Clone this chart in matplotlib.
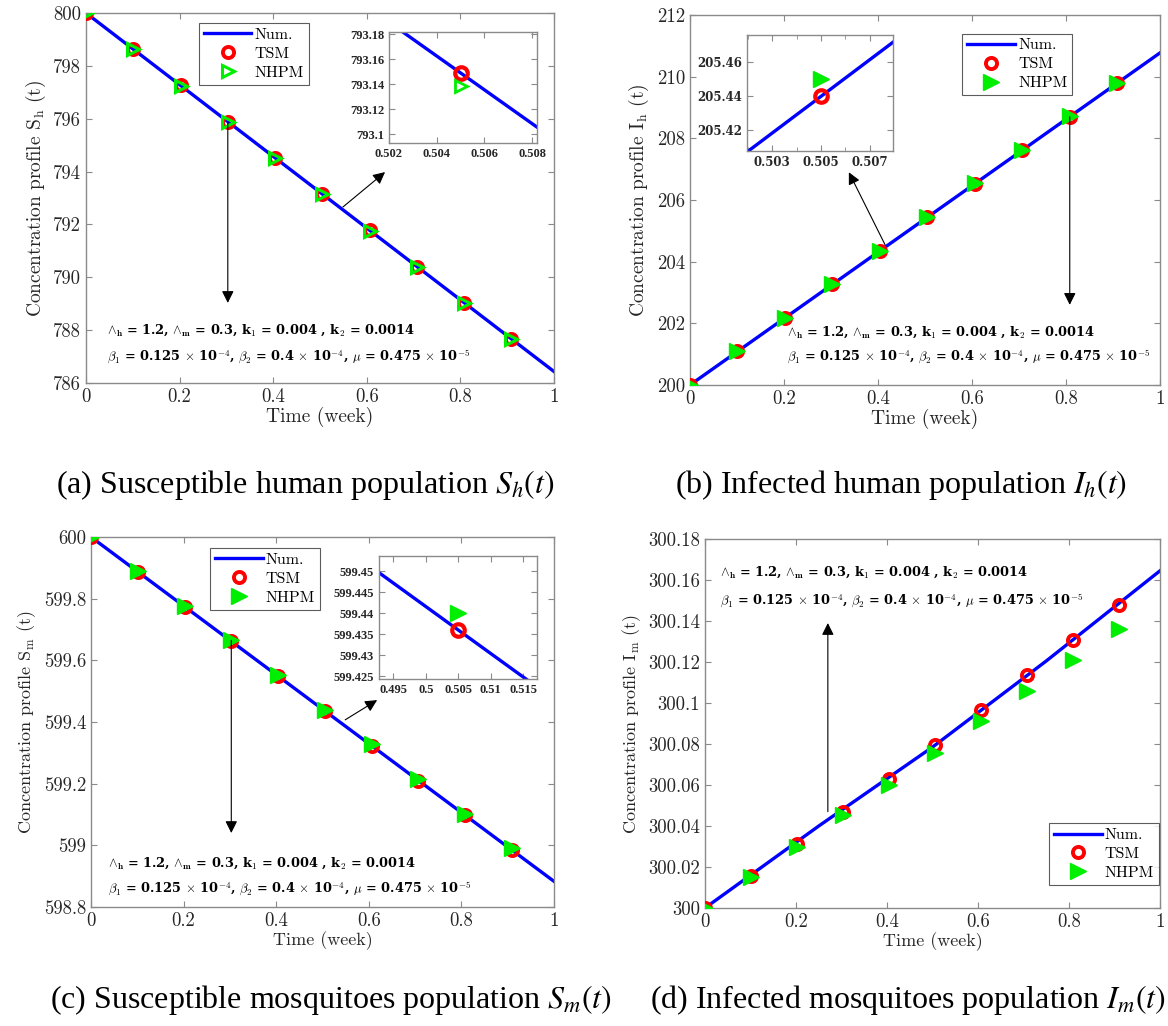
import matplotlib
matplotlib.use('Agg')
import matplotlib.pyplot as plt

plt.rcParams['mathtext.fontset'] = 'cm'
plt.rcParams['axes.formatter.use_mathtext'] = True

# time points of the TSM / NHPM markers and of the numerical curve
t_pts = [0, 0.101, 0.202, 0.303, 0.404, 0.505, 0.606, 0.707, 0.808, 0.909]
t_num = [0, 0.25, 0.5, 0.75, 1.0]

# (a) susceptible humans
Sh_num = [800, 796.608, 793.217, 789.825, 786.434]
Sh_tsm = [800, 798.630, 797.260, 795.889, 794.519, 793.149, 791.779, 790.408, 789.038, 787.668]
Sh_nhpm = [800, 798.626, 797.254, 795.882, 794.510, 793.139, 791.768, 790.396, 789.025, 787.654]

# (b) infected humans
Ih_num = [200, 202.693, 205.386, 208.079, 210.772]
Ih_tsm = [200, 201.088, 202.176, 203.264, 204.352, 205.440, 206.528, 207.616, 208.704, 209.792]
Ih_nhpm = [200, 201.090, 202.180, 203.270, 204.360, 205.450, 206.540, 207.630, 208.720, 209.810]

# (c) susceptible mosquitoes
Sm_num = [600, 599.7208, 599.4416, 599.1624, 598.8832]
Sm_tsm = [600, 599.887, 599.774, 599.662, 599.549, 599.436, 599.323, 599.210, 599.098, 598.985]
Sm_nhpm = [600, 599.889, 599.777, 599.666, 599.553, 599.440, 599.328, 599.215, 599.103, 598.991]

# (d) infected mosquitoes
Im_num = [300, 300.040, 300.0785, 300.1205, 300.1645]
Im_tsm = [300, 300.0155, 300.031, 300.047, 300.063, 300.0795, 300.0965, 300.1135, 300.1305, 300.148]
Im_nhpm = [300, 300.015, 300.030, 300.0455, 300.060, 300.0755, 300.091, 300.106, 300.121, 300.136]

x_ticks = [0, 0.2, 0.4, 0.6, 0.8, 1]
x_ticklabels = ['0', '0.2', '0.4', '0.6', '0.8', '1']

param_line1 = (r'$\wedge_\mathbf{h}$ = 1.2, $\wedge_\mathbf{m}$ = 0.3, k$_\mathbf{1}$ = 0.004 , '
               r'k$_\mathbf{2}$ = 0.0014')
param_line2 = (r'$\beta_\mathbf{1}$ = 0.125 $\times$ 10$^\mathbf{-4}$, $\beta_\mathbf{2}$ = 0.4 $\times$ '
               r'10$^\mathbf{-4}$, $\mu$ = 0.475 $\times$ 10$^\mathbf{-5}$')

GRAY = '#8a8a8a'
TXT = '#262626'
GREEN = '#00ee00'

fig = plt.figure(figsize=(11.68, 10.26), dpi=100)


def rect(L, T, R, B):
  return [L / 1168, 1 - B / 1026, (R - L) / 1168, (B - T) / 1026]


def style(ax, size=13.5, family='cmr10', weight='normal'):
  for s in ax.spines.values():
    s.set_color(GRAY)
    s.set_linewidth(1.0)
  ax.tick_params(direction='in', top=True, right=True, color=GRAY, labelcolor=TXT,
                 labelsize=size, length=4, width=0.8)
  for lab in ax.get_xticklabels() + ax.get_yticklabels():
    lab.set_family(family)
    lab.set_weight(weight)


def panel(r, tn, yn, ytsm, ynhpm, ylim, yticks, ylabel, open_tri=False, legend_loc=None, lab_size=14):
  ax = fig.add_axes(rect(*r))
  ax.plot(tn, yn, color='blue', lw=2.4, label='Num.', zorder=2)
  ax.plot(t_pts, ytsm, ls='none', marker='o', ms=8, mfc='none', mec='red', mew=2.8,
          label='TSM', zorder=3)
  if open_tri:
    ax.plot(t_pts, ynhpm, ls='none', marker='>', ms=9, mfc='none', mec=GREEN, mew=2.2,
            label='NHPM', zorder=4)
  else:
    ax.plot(t_pts, ynhpm, ls='none', marker='>', ms=11, mfc=GREEN, mec=GREEN, mew=1,
            label='NHPM', zorder=4)
  ax.set_xlim(0, 1)
  ax.set_ylim(*ylim)
  ax.set_xticks(x_ticks)
  ax.set_xticklabels(x_ticklabels)
  ax.set_yticks(yticks)
  ax.set_yticklabels([('%g' % v) for v in yticks])
  ax.set_xlabel('Time (week)', family='cmr10', fontsize=lab_size, color=TXT, labelpad=1)
  ax.set_ylabel(ylabel, family='cmr10', fontsize=lab_size, color=TXT, labelpad=4)
  style(ax)
  leg = ax.legend(loc='upper left', bbox_to_anchor=legend_loc, frameon=True, fancybox=False,
                  borderpad=0.3, labelspacing=0.3, handlelength=3.0,
                  handletextpad=0.2, borderaxespad=0, prop={'family': 'cmr10', 'size': 11.5})
  leg.get_frame().set_edgecolor('#333333')
  leg.get_frame().set_linewidth(0.8)
  return ax


def inset(r, tn, yn, ytsm, ynhpm, xlim, ylim, xticks, yticks, xfmt, yfmt, open_tri=False,
          minor=None, family='Liberation Serif', size=9):
  ax = fig.add_axes(rect(*r))
  ax.plot(tn, yn, color='blue', lw=2.4, zorder=2)
  ax.plot(t_pts, ytsm, ls='none', marker='o', ms=9, mfc='none', mec='red', mew=3, zorder=3)
  if open_tri:
    ax.plot(t_pts, ynhpm, ls='none', marker='>', ms=9, mfc='none', mec=GREEN, mew=2, zorder=4)
  else:
    ax.plot(t_pts, ynhpm, ls='none', marker='>', ms=11, mfc=GREEN, mec=GREEN, zorder=4)
  ax.set_xlim(*xlim)
  ax.set_ylim(*ylim)
  ax.set_xticks(xticks)
  ax.set_yticks(yticks)
  if minor is not None:
    ax.set_xticks(minor, minor=True)
    ax.tick_params(which='minor', direction='in', top=True, color=GRAY, length=3)
  style(ax, size=size, family=family, weight='bold')
  ax.set_xticklabels([xfmt % v for v in xticks], family=family, weight='bold', fontsize=size)
  ax.set_yticklabels([yfmt % v for v in yticks], family=family, weight='bold', fontsize=size)
  return ax


def params(ax, x, y1, y2, size=9.3):
  for y, s in ((y1, param_line1), (y2, param_line2)):
    ax.text(x, y, s, transform=ax.transAxes, fontsize=size, fontweight='bold',
            family='DejaVu Serif', va='center', ha='left', color='black', zorder=6)


def arrow(ax, start, end):
  ax.annotate('', xy=end, xytext=start,
              arrowprops=dict(arrowstyle='-|>', color='black', lw=0.8, mutation_scale=18,
                              shrinkA=0, shrinkB=0), zorder=6)


# ---- (a)
axa = panel((86, 13, 554, 383), t_num, Sh_num, Sh_tsm, Sh_nhpm, (786, 800),
            [786, 788, 790, 792, 794, 796, 798, 800],
            r'Concentration profile S$_\mathrm{h}$ (t)', open_tri=True, legend_loc=(0.241, 0.973))
params(axa, 0.045, 0.143, 0.072)
arrow(axa, (0.303, 795.89), (0.303, 789.03))
arrow(axa, (0.549, 792.66), (0.639, 793.98))
inset((389, 32, 537, 143), t_num, Sh_num, Sh_tsm, Sh_nhpm, (0.502, 0.5082), (793.093, 793.182),
      [0.502, 0.504, 0.506, 0.508], [793.1, 793.12, 793.14, 793.16, 793.18], '%.3f', '%g',
      open_tri=True)

# ---- (b)
axb = panel((690, 15, 1160, 385), t_num, Ih_num, Ih_tsm, Ih_nhpm, (200, 212),
            [200, 202, 204, 206, 208, 210, 212],
            r'Concentration profile I$_\mathrm{h}$ (t)', legend_loc=(0.579, 0.95))
params(axb, 0.206, 0.143, 0.076)
arrow(axb, (0.808, 208.7), (0.808, 202.6))
arrow(axb, (0.415, 204.55), (0.338, 206.9))
inset((747, 35, 893, 151), t_num, Ih_num, Ih_tsm, Ih_nhpm, (0.50196, 0.50796), (205.4077, 205.476),
      [0.503, 0.505, 0.507], [205.42, 205.44, 205.46], '%.3f', '%.2f',
      minor=[0.502, 0.504, 0.506], family='DejaVu Serif', size=8.5)

# ---- (c)
axc = panel((91, 537, 554, 907), t_num, Sm_num, Sm_tsm, Sm_nhpm, (598.8, 600),
            [598.8, 599.0, 599.2, 599.4, 599.6, 599.8, 600.0],
            r'Concentration profile S$_\mathrm{m}$ (t)', legend_loc=(0.257, 0.97), lab_size=13)
params(axc, 0.037, 0.118, 0.048)
arrow(axc, (0.303, 599.665), (0.303, 599.04))
arrow(axc, (0.549, 599.407), (0.618, 599.471))
inset((379, 556, 537, 679), t_num, Sm_num, Sm_tsm, Sm_nhpm, (0.4928, 0.5171), (599.4244, 599.4536),
      [0.495, 0.5, 0.505, 0.51, 0.515], [599.425, 599.43, 599.435, 599.44, 599.445, 599.45], '%g', '%g')

# ---- (d)
axd = panel((705, 539, 1160, 908), t_num, Im_num, Im_tsm, Im_nhpm, (300, 300.18),
            [300, 300.02, 300.04, 300.06, 300.08, 300.1, 300.12, 300.14, 300.16, 300.18],
            r'Concentration profile I$_\mathrm{m}$ (t)', legend_loc=(0.756, 0.23), lab_size=13)
params(axd, 0.033, 0.911, 0.832)
arrow(axd, (0.27, 300.047), (0.27, 300.139))

# ---- captions
cap = dict(family='Liberation Serif', fontsize=23, math_fontfamily='stix', va='center', color='black')
fig.text(305 / 1168, 1 - 485 / 1026, r'(a) Susceptible human population $S_h(t)$', ha='center', **cap)
fig.text(901 / 1168, 1 - 485 / 1026, r'(b) Infected human population $I_h(t)$', ha='center', **cap)
fig.text(50 / 1168, 1 - 1000 / 1026, r'(c) Susceptible mosquitoes population $S_m(t)$', ha='left', **cap)
fig.text(650 / 1168, 1 - 1000 / 1026, r'(d) Infected mosquitoes population $I_m(t)$', ha='left', **cap)

fig.savefig('out.png', dpi=100)
